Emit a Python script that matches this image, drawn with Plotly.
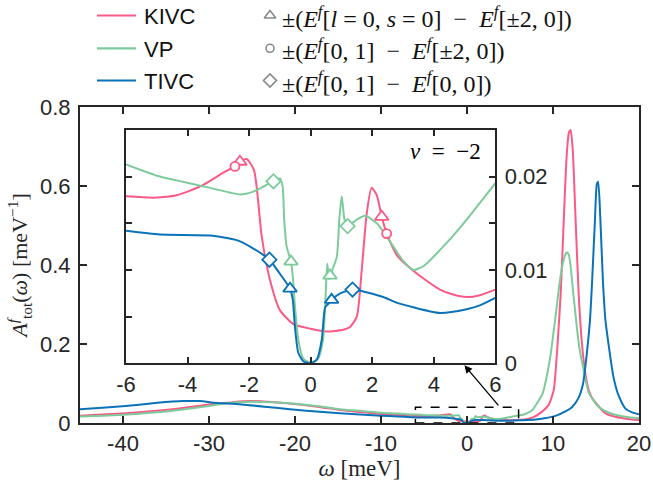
import plotly.graph_objects as go

# ---------------- data ----------------
# inset region (-6 .. 6 meV)
kivc_in_x = [-6, -5.1, -4.35, -3.5, -2.85, -2.46, -2.3, -2.08, -1.84, -1.59, -1.32, -1.0, -0.56, 0, 0.52, 1.06, 1.28, 1.5, 1.66, 1.82, 1.98, 2.15, 2.31, 2.47, 2.8, 3.23, 3.7, 4.2, 4.6, 5.07, 5.5, 6]
kivc_in_y = [.0179, .01775, .0180, .0191, .0204, .0211, .0216, .0219, .0207, .0136, .0089, .0057, .0042, .0037, .0034, .0036, .0039, .0050, .0100, .0160, .0188, .0180, .0157, .0139, .0116, .0102, .0090, .0079, .0074, .0071, .0073, .0079]

vp_in_x = [-6, -5, -4.35, -3.27, -2.3, -1.86, -1.5, -1.21, -1.0, -0.91, -0.86, -0.78, -0.64, -0.58, -0.51, -0.40, -0.24, 0, 0.24, 0.40, 0.47, 0.54, 0.60, 0.66, 0.85, 0.93, 1.01, 1.10, 1.2, 1.5, 1.77, 2.15, 2.69, 3.0, 3.34, 3.66, 4.42, 5.07, 5.5, 6.0]
vp_in_y = [.0213, .0201, .0196, .0188, .0181, .0184, .0190, .0195, .0198, .0189, .0154, .0125, .0109, .0093, .0061, .0025, .0005, .0001, .0005, .0025, .0060, .0107, .0090, .0096, .0114, .0154, .0179, .0154, .0147, .0154, .0158, .0150, .0125, .0110, .0100, .0104, .0129, .0154, .0172, .0193]

tivc_in_x = [-6, -4.9, -3.27, -2.4, -1.86, -1.34, -1.0, -0.67, -0.58, -0.51, -0.40, -0.23, 0, 0.20, 0.36, 0.47, 0.58, 0.68, 0.96, 1.36, 1.71, 2.36, 2.79, 3.34, 4.2, 5.07, 5.5, 6.0]
tivc_in_y = [.0142, .0138, .0137, .0132, .0123, .0111, .0096, .0080, .0068, .0039, .0011, .0002, .0000, .0004, .0025, .0060, .0064, .0068, .0075, .0079, .0077, .0071, .0065, .0060, .0054, .0058, .0062, .0070]

# outer parts of the full-range curves
kivc_left_x = [-45, -42, -39.7, -36, -33, -30, -28, -26, -24, -22, -20, -17, -14.8, -12, -9.9, -8, -6.5]
kivc_left_y = [.0186, .022, .0245, .031, .038, .047, .051, .055, .055, .052, .048, .040, .033, .027, .023, .020, .0183]
vp_left_x = [-45, -40, -35, -30, -28, -25, -22, -20, -17, -14.8, -12, -10, -8, -6.5]
vp_left_y = [.0165, .021, .029, .043, .050, .054, .052, .049, .042, .035, .030, .026, .024, .0215]
tivc_left_x = [-45, -42, -39.7, -36, -33, -31, -29.7, -26.2, -22.5, -18.7, -14.8, -10, -8, -6.5]
tivc_left_y = [.0346, .039, .043, .051, .0555, .0555, .052, .047, .039, .031, .0245, .0186, .0165, .0148]

kivc_right_x = [6.5, 7.6, 8.5, 9.5, 9.73, 10.1, 10.5, 10.9, 11.28, 11.6, 11.85, 12.05, 12.3, 12.6, 13.0, 13.4, 13.8, 14.2, 14.5, 15.2, 16.1, 17.0, 18.5, 20]
kivc_right_y = [.0085, .0135, .025, .046, .058, .085, .19, .33, .53, .68, .735, .742, .69, .53, .32, .193, .12, .08, .065, .045, .0245, .017, .011, .0076]
vp_right_x = [6.5, 7.0, 7.6, 8.2, 8.8, 9.2, 9.7, 10.3, 10.8, 11.1, 11.4, 11.6, 11.85, 12.05, 12.35, 12.6, 13.0, 13.4, 14.2, 15.3, 16.5, 18.4, 20]
vp_right_y = [.021, .025, .033, .052, .075, .11, .17, .27, .36, .40, .425, .432, .425, .396, .33, .278, .20, .151, .075, .041, .026, .016, .012]
tivc_right_x = [6.5, 8, 9, 10.3, 11.5, 12.2, 13.0, 13.5, 14.0, 14.3, 14.55, 14.85, 15.1, 15.25, 15.5, 15.8, 16.1, 16.5, 17.0, 17.3, 17.6, 18.4, 19.2, 20]
tivc_right_y = [.0072, .009, .012, .018, .030, .040, .065, .10, .19, .26, .36, .50, .605, .611, .52, .362, .26, .193, .12, .092, .071, .037, .027, .022]

# characteristic energies (markers in inset)
kivc_tri_x, kivc_tri_y = [-2.3, 2.31], [.0216, .0157]
kivc_cir_x, kivc_cir_y = [-2.46, 2.47], [.0211, .0139]
vp_tri_x, vp_tri_y = [-0.64, 0.63], [.0109, .0094]
vp_dia_x, vp_dia_y = [-1.21, 1.2], [.0195, .0147]
tivc_tri_x, tivc_tri_y = [-0.67, 0.68], [.0080, .0068]
tivc_dia_x, tivc_dia_y = [-1.34, 1.36], [.0111, .0079]

names = ["KIVC", "VP", "TIVC"]
colors = ["#FA5A85", "#7DCB9B", "#0A72B8"]

main_xticks = [-40, -30, -20, -10, 0, 10, 20]
main_xticktext = ["-40", "-30", "-20", "-10", "0", "10", "20"]
main_yticks = [0, 0.2, 0.4, 0.6, 0.8]
main_yticktext = ["0", "0.2", "0.4", "0.6", "0.8"]
inset_xticks = [-6, -4, -2, 0, 2, 4, 6]
inset_xticktext = ["-6", "-4", "-2", "0", "2", "4", "6"]
inset_yticks = [0, 0.005, 0.01, 0.015, 0.02]
inset_yticktext = ["0", "", "0.01", "", "0.02"]

SP = "\u2002"  # math-like spacing around the binary minus
marker_labels = [
    f"±(<i>E</i><sup><i>f</i></sup>[<i>l</i> = 0, <i>s</i> = 0]{SP}−{SP}<i>E</i><sup><i>f</i></sup>[±2, 0])",
    f"±(<i>E</i><sup><i>f</i></sup>[0, 1]{SP}−{SP}<i>E</i><sup><i>f</i></sup>[±2, 0])",
    f"±(<i>E</i><sup><i>f</i></sup>[0, 1]{SP}−{SP}<i>E</i><sup><i>f</i></sup>[0, 0])",
]
marker_symbols = ["triangle-up-open", "circle-open", "diamond-open"]

# ---------------- figure ----------------
SANS = "Liberation Sans, Arial, sans-serif"
SERIF = "Liberation Serif, Times New Roman, serif"
AX = "#262626"

W, H = 653, 485
ML, MR, MT, MB = 80, 14, 0, 62
H_PAPER = H - MT - MB            # 423
MAIN_TOP = (423 - 107) / H_PAPER

# legend geometry (pixel units on an invisible overlay axis)
LEG_ROWS = [15.5, 48.3, 80.5]
LEG_LINE_X = [97, 136]
LEG_TEXT_X = 142
LEG_MARK_X = 270
LEG_MTEXT_X = 280

fig = go.Figure()

full = [
    (kivc_left_x + kivc_in_x + kivc_right_x, kivc_left_y + kivc_in_y + kivc_right_y),
    (vp_left_x + vp_in_x + vp_right_x, vp_left_y + vp_in_y + vp_right_y),
    (tivc_left_x + tivc_in_x + tivc_right_x, tivc_left_y + tivc_in_y + tivc_right_y),
]
insets = [(kivc_in_x, kivc_in_y), (vp_in_x, vp_in_y), (tivc_in_x, tivc_in_y)]

for i, (n, c) in enumerate(zip(names, colors)):
    fx, fy = full[i]
    fig.add_trace(go.Scatter(x=fx, y=fy, mode="lines", name=n, showlegend=False,
                             line=dict(color=c, width=2, shape="spline", smoothing=0.6),
                             xaxis="x", yaxis="y"))
for i, (n, c) in enumerate(zip(names, colors)):
    ix, iy = insets[i]
    fig.add_trace(go.Scatter(x=ix, y=iy, mode="lines", showlegend=False,
                             line=dict(color=c, width=2, shape="spline", smoothing=0.6),
                             xaxis="x2", yaxis="y2"))

marker_sets = [
    (kivc_tri_x, kivc_tri_y, "triangle-up", colors[0]),
    (kivc_cir_x, kivc_cir_y, "circle", colors[0]),
    (vp_tri_x, vp_tri_y, "triangle-up", colors[1]),
    (vp_dia_x, vp_dia_y, "diamond", colors[1]),
    (tivc_tri_x, tivc_tri_y, "triangle-up", colors[2]),
    (tivc_dia_x, tivc_dia_y, "diamond", colors[2]),
]
for mx, my, sym, c in marker_sets:
    size = 12 if sym == "triangle-up" else (9 if sym == "circle" else 11)
    fig.add_trace(go.Scatter(x=mx, y=my, mode="markers", showlegend=False,
                             marker=dict(symbol=sym, size=size, color="white",
                                         line=dict(color=c, width=1.8)),
                             xaxis="x2", yaxis="y2"))

# ---- legend (drawn on an invisible pixel-unit overlay axis) ----
for n, c, ry in zip(names, colors, LEG_ROWS):
    fig.add_trace(go.Scatter(x=LEG_LINE_X, y=[ry, ry], mode="lines", showlegend=False,
                             line=dict(color=c, width=2.2), xaxis="x3", yaxis="y3", hoverinfo="skip"))
    fig.add_annotation(xref="x3", yref="y3", x=LEG_TEXT_X, y=ry + 1, xanchor="left", yanchor="middle",
                       text=n, showarrow=False, font=dict(family=SANS, size=22, color="#111111"))
fig.add_trace(go.Scatter(x=[LEG_MARK_X] * 3, y=LEG_ROWS, mode="markers", showlegend=False,
                         marker=dict(symbol=marker_symbols, size=[10, 8, 10], color="#555555",
                                     line=dict(color="#555555", width=1.6)),
                         xaxis="x3", yaxis="y3", hoverinfo="skip"))
for lab, ry in zip(marker_labels, LEG_ROWS):
    fig.add_annotation(xref="x3", yref="y3", x=LEG_MTEXT_X, y=ry + 1, xanchor="left", yanchor="middle",
                       text=lab, showarrow=False, font=dict(family=SERIF, size=24, color="#111111"))

# zoom box + arrow
fig.add_shape(type="rect", xref="x", yref="y", x0=-6, x1=6, y0=0, y1=0.04,
              line=dict(color="black", width=1.5, dash="dash"))
fig.add_annotation(xref="x", yref="y", axref="x", ayref="y",
                   x=-0.3, y=0.146, ax=3.8, ay=0.041, text="", showarrow=True,
                   arrowhead=2, arrowsize=1.2, arrowwidth=1.3, arrowcolor="black")
fig.add_annotation(xref="paper", yref="paper", x=(483 - ML) / (W - ML - MR), y=(423 - 152) / H_PAPER,
                   xanchor="right", yanchor="middle",
                   text=f"<i>ν</i>{SP}={SP}−2", showarrow=False,
                   font=dict(family=SERIF, size=23, color="black"))

common_ax = dict(showgrid=False, zeroline=False, linecolor=AX, linewidth=2, automargin=False,
                 ticks="inside", tickcolor=AX, tickwidth=1.5, mirror="ticks", showline=True,
                 tickfont=dict(family=SANS, size=22, color=AX))

fig.update_layout(
    width=W, height=H,
    margin=dict(l=ML, r=MR, t=MT, b=MB, autoexpand=False),
    paper_bgcolor="white", plot_bgcolor="rgba(0,0,0,0)",
    showlegend=False,
    xaxis=dict(range=[-45, 20], tickvals=main_xticks, ticktext=main_xticktext, ticklen=7,
               domain=[0, 1], anchor="y",
               title=dict(text="<i>ω</i> [meV]", font=dict(family=SERIF, size=23, color=AX), standoff=4),
               **common_ax),
    yaxis=dict(range=[0, 0.8], tickvals=main_yticks, ticktext=main_yticktext, ticklen=7,
               domain=[0, MAIN_TOP], anchor="x", ticklabelstandoff=3,
               title=dict(text="<i>A</i><sup><i>f</i></sup><sub>tot</sub>(<i>ω</i>) [meV<sup>−1</sup>]",
                          font=dict(family=SERIF, size=22, color=AX), standoff=6),
               **common_ax),
    xaxis2=dict(range=[-6, 6], tickvals=inset_xticks, ticktext=inset_xticktext, ticklen=6, anchor="y2",
                domain=[(126 - ML) / (W - ML - MR), (495.3 - ML) / (W - ML - MR)], **common_ax),
    yaxis2=dict(range=[0, 0.025], tickvals=inset_yticks, ticktext=inset_yticktext, ticklen=6,
                anchor="x2", side="right", ticklabelstandoff=3,
                domain=[(423 - 363.3) / H_PAPER, (423 - 130) / H_PAPER], **common_ax),
    xaxis3=dict(range=[ML, W - MR], domain=[0, 1], anchor="y3", visible=False, fixedrange=True),
    yaxis3=dict(range=[H - MB, MT], domain=[0, 1], anchor="x3", visible=False, fixedrange=True),
)

# remove the default 8px page margin so the figure sits at the window origin
fig.write_html("out.html", config={"displayModeBar": False},
               post_script="document.body.style.margin='0px';")
